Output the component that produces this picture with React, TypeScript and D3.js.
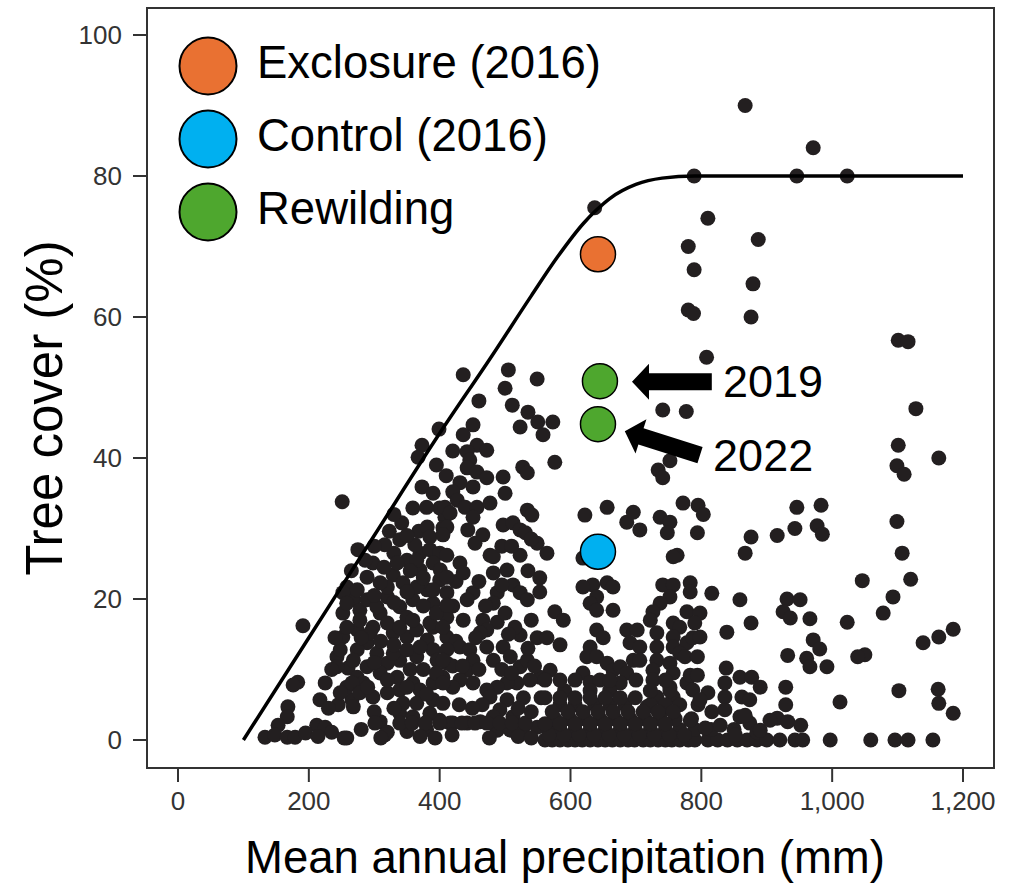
import React from 'react';
import * as d3 from 'd3';

// [precipitation mm, tree cover %]
const sparseDots: [number, number][] = [
  [789, 80], [971, 84], [946, 80], [1023, 80], [810, 74], [887, 71], [789, 66.7], [879, 64.7],
  [876, 60], [1101, 56.7], [1116, 56.5], [808, 54.3], [867, 90], [637, 75.5], [780, 70], [780, 61], [788, 60.5],
];

const rightDots: [number, number][] = [
  [1128, 47], [1101, 41.8], [1163, 40], [1099, 38.9], [1110, 37.7], [1099, 31], [1107, 26.5],
  [876, 28.8], [867, 26.5], [916, 29], [943, 30], [946, 33], [983, 33.3], [977, 30.4], [985, 29.2],
  [1046, 22.6], [1120, 22.8], [1093, 20.3], [1078, 18], [1185, 15.7], [1163, 14.6], [1139, 13.8],
  [1023, 16.7], [1050, 12.1], [1039, 11.8], [1102, 7], [1162, 7.2], [1163, 5.2], [1185, 3.8], [1012, 5.4],
  [997, 0], [1059, 0], [1096, 0], [1116, 0], [1154, 0],
  [931, 20], [951, 19.9], [925, 18.2], [936, 17.3], [966, 17.2], [971, 14.2], [981, 12.9], [932, 12],
  [961, 11.6], [966, 10.4], [992, 10.4], [929, 7.5], [929, 5], [916, 3.1], [932, 2.6], [952, 2.1],
  [876, 16.6], [839, 15.3], [859, 19.9], [816, 20.8], [783, 22.3], [783, 21], [778, 18.2], [798, 18],
  [790, 16.6], [787, 14.5], [798, 14.6], [775, 11.8], [794, 11.8], [783, 9.2], [794, 9.2],
  [787, 7.1], [810, 6.7], [795, 5], [838, 10.2], [836, 8.1], [836, 6.1], [836, 4.3],
  [859, 8.9], [877, 8.9], [890, 7.5], [862, 6.1], [874, 5.7],
  [859, 3.3], [874, 2.4], [885, 1.1], [900, 0], [920, 0], [943, 0], [955, 0],
  [798, 5.7], [816, 4], [783, 2.8], [806, 1.7], [829, 2.1], [852, 0.7], [890, 1.4], [867, 3.5], [905, 2.8],
];

const centerDots: [number, number][] = [
  [619, 25.8], [634, 22], [656, 22.3], [665, 21.7], [619, 21.7], [640, 20.3], [630, 19.4], [640, 18.4], [665, 18.4],
  [640, 15.6], [650, 14.5], [630, 13.2], [625, 11.8], [640, 11.8], [656, 10.9], [665, 9.9], [619, 9.5], [630, 8.2],
  [645, 8.5], [676, 10.4], [686, 9.5], [696, 11.3], [686, 15.6], [702, 15.6], [691, 13.8], [706, 13.2], [706, 11.3], [676, 8.1],
  [622, 31.9], [656, 33], [686, 30.9], [696, 32.3], [706, 29.8], [737, 31.6], [752, 30.9], [748, 29.4],
  [772, 33.6], [795, 33.3], [803, 32], [794, 29.4], [741, 46.8], [777, 46.6], [734, 38.3], [741, 37.2], [752, 39.6], [763, 26.2],
  [757, 26], [741, 22], [757, 22], [752, 20.3], [737, 19.4], [726, 18.2], [722, 17], [757, 16.6], [767, 16],
  [732, 15.2], [757, 14.6], [732, 13.2], [757, 13.2], [778, 13.8], [767, 12.3], [732, 11.3], [752, 10.9],
  [726, 9.9], [757, 9.5], [726, 8.5], [752, 7.5], [778, 8.1], [732, 6.1], [757, 6.1], [717, 4.7], [741, 4.3],
];

const midDots: [number, number][] = [
  [436, 51.8], [505, 52.5], [500, 49.9], [549, 51.2], [460, 48.1], [511, 47.5], [535, 46.5], [523, 44.4],
  [550, 45.1], [573, 45.1], [558, 43.3], [451, 44.7], [436, 43.3], [457, 41.8], [442, 40.9], [472, 41.1],
  [446, 39.7], [442, 38.6], [457, 38], [472, 37.2], [451, 35.9], [431, 36.5], [420, 35.2], [427, 34],
  [408, 33], [416, 32.2], [439, 33], [457, 33], [477, 33.6], [451, 31.6], [443, 29.8], [411, 30.2], [405, 29.1],
  [576, 39.4], [527, 38.7], [534, 37.9], [497, 37.3], [500, 35], [534, 32.6], [541, 31.9], [497, 30.5],
  [512, 30.8], [523, 29.8], [531, 29.4], [549, 27.9], [564, 26.5], [466, 29.1], [454, 27.9], [477, 26.2], [523, 26.2],
  [411, 26.2], [431, 25.1], [436, 23.7], [411, 23.1], [482, 26], [503, 24.1], [482, 23.7], [512, 22], [523, 20.9],
  [553, 23], [553, 21], [534, 19.9], [488, 20.9], [482, 19.4], [451, 20.9], [442, 19.9], [411, 19.1],
  [436, 17], [466, 17], [488, 16.7], [472, 15.6], [462, 15.2], [523, 14.9], [549, 14.5], [564, 14.5],
  [584, 13.5], [576, 18.2], [589, 17], [431, 13.2], [446, 12.8], [472, 13.2], [497, 13.2], [482, 11.3],
  [508, 11.8], [523, 10.4], [534, 11.3], [451, 11.3], [442, 9.9], [411, 12.8], [405, 11.3],
  [569, 9.9], [553, 8.9], [538, 8.5], [518, 8.1], [503, 8.1], [488, 7.5], [472, 7.1], [451, 8.1], [431, 8.5],
  [420, 7.5], [405, 8.1], [477, 6.1], [503, 5.7], [528, 6], [492, 4.3], [512, 3.3], [482, 3.3], [462, 2.6],
  [442, 2.4], [420, 2.4], [400, 2.4], [488, 1.4], [508, 1.4], [528, 1.8], [549, 1.8], [316, 0.7], [419, 0.7],
  [301, 2.4], [339, 2.4], [358, 2.4], [378, 2.4], [434, 2.4], [454, 2.4], [472, 2.4], [492, 2.4], [511, 2.4], [531, 2.4],
  [214, 0.5], [254, 0.3], [310, 0.3], [370, 0.5], [393, 0.3], [476, 0.3], [520, 0.5], [540, 0.3],
  [460, 22.5], [495, 22], [470, 19], [500, 18], [515, 16], [540, 17], [455, 14.5], [505, 15], [535, 13],
  [460, 10], [495, 10], [510, 9.5], [545, 10.5], [465, 5], [450, 4.5], [520, 4.5], [540, 4], [555, 6],
  [430, 5], [435, 10.5], [495, 27.5], [510, 27.5], [535, 24], [540, 28.5],
];

const leftDots: [number, number][] = [
  [251, 33.8], [399, 44.1], [373, 41.8], [367, 40.1], [373, 35.9], [359, 32.9], [342, 30.8], [323, 29.6],
  [368, 29.6], [381, 30.2], [400, 32.9], [408, 31.6], [405, 30.1], [330, 26.5], [370, 26.5], [385, 27], [400, 26.5],
  [191, 16.2], [183, 8.2], [176, 7.8], [225, 8.1], [217, 5.7], [168, 4.7], [167, 3.3], [153, 2.1], [133, 0.4],
  [148, 0.7], [167, 0.4], [179, 0.4], [212, 2.1], [225, 1.8], [235, 1.1], [258, 0.3],
  [245, 5], [266, 5.7], [258, 7.5], [243, 11.8], [260, 10.2], [274, 8.9], [283, 8.1], [266, 8.1],
  [252, 14.6], [274, 15.6], [298, 16], [289, 13.8], [274, 12.8], [304, 12.3],
  [258, 21.7], [268, 19.9], [278, 18.4], [252, 18],
  [298, 25.1], [289, 23.1], [329, 23.4], [320, 20.3], [339, 18.9], [309, 18], [350, 17.4],
  [329, 15.2], [350, 14.6], [365, 15.6], [381, 14.2], [390, 12.8], [365, 11.8], [339, 11.3], [320, 10.9],
  [335, 8.9], [359, 8.1], [339, 7.1], [370, 7.1], [390, 8.1], [405, 8.9],
  [309, 2.6], [339, 3.8], [359, 3.3], [385, 3.8], [400, 2.8], [416, 2.4], [320, 1.1],
  [350, 25.5], [370, 24.1], [390, 25.1], [400, 22.7], [381, 21.3], [359, 19.9], [390, 19.4], [411, 17.4],
  [390, 16], [411, 14.6],
  [252, 20.9], [274, 21.3], [258, 19.4], [289, 19.9], [304, 18.9], [320, 21.7], [344, 22.3], [365, 21.7],
  [390, 21.3], [411, 20.9], [401, 24.1], [365, 25.5], [335, 25.1], [309, 22.3], [278, 17], [258, 16],
  [294, 15.2], [320, 16.6], [339, 16], [359, 17], [385, 16.6], [405, 16], [268, 11.3], [289, 10.4],
  [309, 9.5], [329, 12.3], [350, 12.8], [370, 13.2], [396, 11.3], [411, 10.9], [248, 12.8], [243, 10.4],
  [278, 6.7], [298, 6.1], [320, 6.7], [344, 5.2], [365, 5.2], [390, 5.7], [405, 5.2], [268, 4.7], [248, 6.7],
  [286, 25.5], [316, 27.7], [339, 28.4], [362, 27.7], [385, 28.8],
  [300, 20.5], [330, 19.5], [350, 21], [375, 19], [395, 18], [280, 14.5], [310, 14], [330, 13.5], [355, 10],
  [375, 10], [300, 11], [290, 7.5], [320, 8.5], [350, 7.5], [380, 6.5], [395, 9.5], [420, 10.5], [425, 14],
  [420, 19], [425, 22.5], [375, 23], [355, 24], [315, 24.5], [300, 27.5], [350, 29], [330, 32], [380, 33],
  [390, 35], [410, 37.5], [395, 39], [420, 41], [265, 24], [275, 27], [240, 14.5], [235, 10], [230, 4.5],
  [195, 1], [280, 1.5], [300, 4], [330, 4.5], [350, 1.2], [380, 1.5],
];

const bottomDots: [number, number][] = [
  [561, 0], [572, 0], [584, 0], [596, 0], [607, 0], [618, 0], [630, 0], [642, 0], [653, 0], [664, 0],
  [676, 0], [688, 0], [698, 0], [711, 0], [722, 0], [734, 0], [745, 0], [755, 0], [767, 0], [780, 0],
  [790, 0], [810, 0], [825, 0], [840, 0], [855, 0], [870, 0], [885, 0],
  [566, 1.5], [584, 1.5], [607, 1.5], [630, 1.5], [653, 1.5], [676, 1.5], [699, 1.5], [722, 1.5],
  [745, 1.5], [767, 1.5], [790, 1.5], [815, 1.5], [850, 1.5],
  [576, 3], [599, 3], [622, 3], [645, 3], [668, 3], [691, 3], [714, 3], [737, 3], [760, 3], [785, 3],
  [584, 5], [607, 5], [637, 5], [660, 5], [683, 5], [722, 5], [745, 5], [767, 5],
  [591, 7], [630, 7], [660, 7], [722, 7], [752, 7],
  [567, 0.7], [590, 0.7], [613, 0.7], [636, 0.7], [659, 0.7], [682, 0.7], [705, 0.7], [728, 0.7], [751, 0.7], [774, 0.7],
  [561, 2.3], [584, 2.3], [607, 2.3], [630, 2.3], [653, 2.3], [676, 2.3], [699, 2.3], [722, 2.3], [745, 2.3],
  [572, 4], [596, 4], [619, 4], [642, 4], [665, 4], [688, 4], [711, 4], [734, 4], [757, 4],
  [561, 6], [584, 6], [607, 6], [630, 6], [653, 6], [676, 6], [699, 6],
  [561, 8.5], [584, 8.5], [607, 8.5], [660, 8.5], [700, 8.5], [745, 8.5],
];

// fitted envelope
const fitLine: [number, number][] = [
  [100, 0], [200, 14.5], [300, 29], [400, 43.5], [480, 54.5], [540, 63], [580, 68.5], [620, 73.3],
  [640, 75.2], [660, 76.8], [700, 78.8], [740, 79.7], [790, 80], [860, 80], [1200, 80],
];

const sites = [
  { label: 'Exclosure (2016)', color: '#e97132', x: 642, y: 68.9 },
  { label: 'Control (2016)', color: '#00b0f0', x: 642, y: 26.7 },
];
const rewilding = [
  { year: '2019', x: 645, y: 50.9 },
  { year: '2022', x: 642, y: 44.8 },
];
const legendItems = [
  { label: 'Exclosure (2016)', color: '#e97132' },
  { label: 'Control (2016)', color: '#00b0f0' },
  { label: 'Rewilding', color: '#4ea72e' },
];
// arrow: tail and tip in data units, text anchor
const arrows = [
  { label: '2019', tail: [816, 50.8], tip: [694, 50.8], text: [833, 48.7] },
  { label: '2022', tail: [798, 40.4], tip: [683, 43.8], text: [818, 38.2] },
];

const xTicks = [0, 200, 400, 600, 800, 1000, 1200];
const yTicks = [0, 20, 40, 60, 80, 100];

const W = 1025;
const H = 883;
const frame = { left: 147, right: 994, top: 8, bottom: 768 };
const font = '"Liberation Sans", Arial, Helvetica, sans-serif';

export default function App() {
  const x = d3.scaleLinear().domain([0, 1200]).range([178, 963]);
  const y = d3.scaleLinear().domain([0, 100]).range([740, 35]);
  const line = d3
    .line<[number, number]>()
    .x(d => x(d[0]))
    .y(d => y(d[1]))
    .curve(d3.curveMonotoneX);

  const allDots = [...leftDots, ...midDots, ...centerDots, ...bottomDots, ...rightDots, ...sparseDots];

  const arrowPath = (tail: number[], tip: number[]) => {
    const x0 = x(tail[0]), y0 = y(tail[1]);
    const x1 = x(tip[0]), y1 = y(tip[1]);
    const len = Math.hypot(x1 - x0, y1 - y0);
    const ux = (x1 - x0) / len, uy = (y1 - y0) / len;
    const nx = -uy, ny = ux;
    const headLen = 17, headW = 18, shaftW = 8.5;
    const bx = x1 - ux * headLen, by = y1 - uy * headLen;
    const pts = [
      [x0 + nx * shaftW, y0 + ny * shaftW],
      [bx + nx * shaftW, by + ny * shaftW],
      [bx + nx * headW, by + ny * headW],
      [x1, y1],
      [bx - nx * headW, by - ny * headW],
      [bx - nx * shaftW, by - ny * shaftW],
      [x0 - nx * shaftW, y0 - ny * shaftW],
    ];
    return 'M' + pts.map(p => p.join(',')).join('L') + 'Z';
  };

  return (
    <div style={{ position: 'absolute', left: 0, top: 0 }}>
      <svg width={W} height={H} style={{ display: 'block', background: '#fff', fontFamily: font }}>
        {/* frame */}
        <rect
          x={frame.left}
          y={frame.top}
          width={frame.right - frame.left}
          height={frame.bottom - frame.top}
          fill="none"
          stroke="#333"
          strokeWidth={2}
        />
        {/* y axis */}
        {yTicks.map(t => (
          <g key={'y' + t}>
            <line x1={frame.left - 14} x2={frame.left} y1={y(t)} y2={y(t)} stroke="#333" strokeWidth={2} />
            <text x={122} y={y(t)} dy="0.35em" textAnchor="end" fontSize={26} fill="#333">
              {t}
            </text>
          </g>
        ))}
        {/* x axis */}
        {xTicks.map(t => (
          <g key={'x' + t}>
            <line x1={x(t)} x2={x(t)} y1={frame.bottom} y2={frame.bottom + 14} stroke="#333" strokeWidth={2} />
            <text x={x(t)} y={810} textAnchor="middle" fontSize={26} fill="#333">
              {d3.format(',')(t)}
            </text>
          </g>
        ))}
        <text x={565} y={873} textAnchor="middle" fontSize={45.5} fill="#000">
          Mean annual precipitation (mm)
        </text>
        <text transform="translate(62,408) rotate(-90)" textAnchor="middle" fontSize={51} fill="#000">
          Tree cover (%)
        </text>

        {/* data */}
        {allDots.map((d, i) => (
          <circle key={i} cx={x(d[0])} cy={y(d[1])} r={7.5} fill="#231f20" />
        ))}
        <path d={line(fitLine) || ''} fill="none" stroke="#000" strokeWidth={3.5} />

        {sites.map(s => (
          <circle key={s.label} cx={x(s.x)} cy={y(s.y)} r={17.5} fill={s.color} stroke="#000" strokeWidth={1.5} />
        ))}
        {rewilding.map(s => (
          <circle key={s.year} cx={x(s.x)} cy={y(s.y)} r={17.5} fill="#4ea72e" stroke="#000" strokeWidth={1.5} />
        ))}
        {arrows.map(a => (
          <g key={a.label}>
            <path d={arrowPath(a.tail, a.tip)} fill="#000" />
            <text x={x(a.text[0])} y={y(a.text[1])} fontSize={45} fill="#000">
              {a.label}
            </text>
          </g>
        ))}

        {/* legend */}
        {legendItems.map((l, i) => (
          <g key={l.label} transform={`translate(208,${66 + i * 73})`}>
            <circle r={28.5} fill={l.color} stroke="#000" strokeWidth={2} />
            <text x={49} y={12} fontSize={45.5} fill="#000">
              {l.label}
            </text>
          </g>
        ))}
      </svg>
    </div>
  );
}
